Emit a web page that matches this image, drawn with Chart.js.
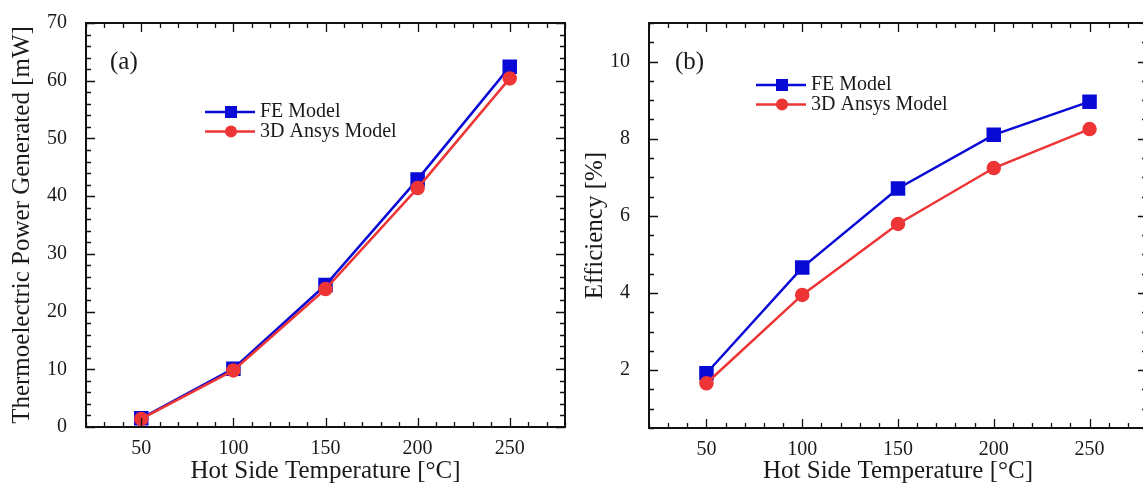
<!DOCTYPE html>
<html>
<head>
<meta charset="utf-8">
<script src="https://cdn.jsdelivr.net/npm/chart.js@4.4.1/dist/chart.umd.min.js"></script>
<style>
	body { margin: 0; background: #fff; width: 1143px; height: 487px; overflow: hidden; position: relative; }
	.panel { position: absolute; top: 0; }
</style>
</head>
<body>
<div class="panel" style="left:0"><canvas id="chartA" width="580" height="487"></canvas></div>
<div class="panel" style="left:580px"><canvas id="chartB" width="580" height="487"></canvas></div>
<script>
// data
const temps = [50, 100, 150, 200, 250];
const powerFE = [1.5, 10.1, 24.6, 42.9, 62.4];
const powerAnsys = [1.4, 9.8, 23.9, 41.4, 60.4];
const effFE = [1.92, 4.66, 6.71, 8.1, 8.96];
const effAnsys = [1.66, 3.95, 5.79, 7.24, 8.25];

const xTicks = [50, 100, 150, 200, 250];
const powerTicks = [0, 10, 20, 30, 40, 50, 60, 70];
const effTicks = [2, 4, 6, 8, 10];

const serif = "'Liberation Serif', 'Times New Roman', serif";
const blue = "#0a0ad6";
const red = "#ee3535";

Chart.defaults.color = "#1a1a1a";
Chart.defaults.font.family = serif;

function pts(ys) {
	return temps.map((t, i) => ({ x: t, y: ys[i] }));
}

function drawMarker(ctx, style, x, y, color) {
	ctx.fillStyle = color;
	if (style === "rect") {
		ctx.fillRect(x - 6, y - 6, 12, 12);
	} else {
		ctx.beginPath();
		ctx.arc(x, y, 6, 0, Math.PI * 2);
		ctx.fill();
	}
}

// box frame with inward ticks on all four sides
const frame = {
	id: "frame",
	afterDatasetsDraw(chart, args, opts) {
		const { ctx, chartArea: a, scales: { x, y } } = chart;
		ctx.save();
		ctx.strokeStyle = "#111";
		ctx.lineWidth = 1.3;
		ctx.beginPath();
		let n = Math.round((x.max - x.min) / opts.xMinor);
		for (let i = 0; i <= n; i++) {
			const v = x.min + i * opts.xMinor;
			const len = Math.abs(v % opts.xMajor) < 1e-6 ? 9 : 5;
			const px = Math.round(x.getPixelForValue(v)) + 0.5;
			ctx.moveTo(px, a.bottom); ctx.lineTo(px, a.bottom - len);
			ctx.moveTo(px, a.top); ctx.lineTo(px, a.top + len);
		}
		n = Math.round((y.max - y.min) / opts.yMinor);
		for (let i = 0; i <= n; i++) {
			const v = y.min + i * opts.yMinor;
			const len = Math.abs(v % opts.yMajor) < 1e-6 ? 9 : 5;
			const py = Math.round(y.getPixelForValue(v)) + 0.5;
			ctx.moveTo(a.left, py); ctx.lineTo(a.left + len, py);
			ctx.moveTo(a.right, py); ctx.lineTo(a.right - len, py);
		}
		ctx.stroke();
		ctx.lineWidth = 2;
		ctx.strokeRect(a.left, a.top, a.right - a.left, a.bottom - a.top);
		ctx.restore();
	}
};

// panel tag and in-plot legend
const inlay = {
	id: "inlay",
	afterDraw(chart, args, opts) {
		const ctx = chart.ctx;
		ctx.save();
		ctx.textBaseline = "middle";
		ctx.fillStyle = "#1a1a1a";
		ctx.font = "25px " + serif;
		ctx.fillText(opts.tag, opts.tagX, opts.tagY);
		ctx.font = "20px " + serif;
		chart.data.datasets.forEach((ds, i) => {
			const y = opts.legY + i * opts.legGap;
			ctx.strokeStyle = ds.borderColor;
			ctx.lineWidth = 2.5;
			ctx.beginPath();
			ctx.moveTo(opts.legX, y);
			ctx.lineTo(opts.legX + 50, y);
			ctx.stroke();
			drawMarker(ctx, ds.pointStyle, opts.legX + 26, y, ds.borderColor);
			ctx.fillStyle = "#1a1a1a";
			ctx.fillText(ds.label, opts.legX + 55, y);
		});
		ctx.restore();
	}
};

function makeChart(id, fe, ansys, yTicks, yMin, yMax, yTitle, box, extras) {
	return new Chart(document.getElementById(id), {
		type: "line",
		data: {
			datasets: [
				{
					label: "FE Model",
					data: pts(fe),
					borderColor: blue,
					backgroundColor: blue,
					borderWidth: 2.5,
					pointStyle: "rect",
					pointRadius: 8.5,
					order: 2
				},
				{
					label: "3D Ansys Model",
					data: pts(ansys),
					borderColor: red,
					backgroundColor: red,
					borderWidth: 2.5,
					pointStyle: "circle",
					pointRadius: 6,
					order: 1
				}
			]
		},
		options: {
			responsive: false,
			animation: false,
			layout: { padding: { top: box.top, right: box.right, left: 0, bottom: 0 } },
			scales: {
				x: {
					type: "linear",
					min: 20,
					max: 280,
					grid: { display: false },
					border: { display: false },
					afterBuildTicks: (s) => { s.ticks = xTicks.map(v => ({ value: v })); },
					afterFit: (s) => { s.height = box.xHeight; },
					ticks: { font: { size: 20 }, padding: 2, autoSkip: false, maxRotation: 0 },
					title: { display: true, text: "Hot Side Temperature [°C]", font: { size: 25 }, padding: { top: 0, bottom: 1 } }
				},
				y: {
					min: yMin,
					max: yMax,
					grid: { display: false },
					border: { display: false },
					afterBuildTicks: (s) => { s.ticks = yTicks.map(v => ({ value: v })); },
					afterFit: (s) => { s.width = box.yWidth; },
					ticks: { font: { size: 20 }, padding: 11, autoSkip: false },
					title: { display: true, text: yTitle, font: { size: 25 }, padding: { top: box.yTitlePad, bottom: 0 } }
				}
			},
			plugins: {
				legend: { display: false },
				tooltip: { enabled: false },
				frame: extras.frame,
				inlay: extras.inlay
			}
		},
		plugins: [frame, inlay]
	});
}

makeChart("chartA", powerFE, powerAnsys, powerTicks, 0, 70,
	"Thermoelectric Power Generated [mW]",
	{ top: 23, right: 15, xHeight: 60, yWidth: 86, yTitlePad: 7 },
	{
		frame: { xMinor: 10, xMajor: 50, yMinor: 2, yMajor: 10 },
		inlay: { tag: "(a)", tagX: 110, tagY: 62, legX: 205, legY: 112, legGap: 19.5 }
	});

makeChart("chartB", effFE, effAnsys, effTicks, 0.5, 11,
	"Efficiency [%]",
	{ top: 23, right: 13, xHeight: 59, yWidth: 69, yTitlePad: 0 },
	{
		frame: { xMinor: 10, xMajor: 50, yMinor: 0.5, yMajor: 2 },
		inlay: { tag: "(b)", tagX: 95, tagY: 62, legX: 176, legY: 85, legGap: 19.5 }
	});
</script>
</body>
</html>
